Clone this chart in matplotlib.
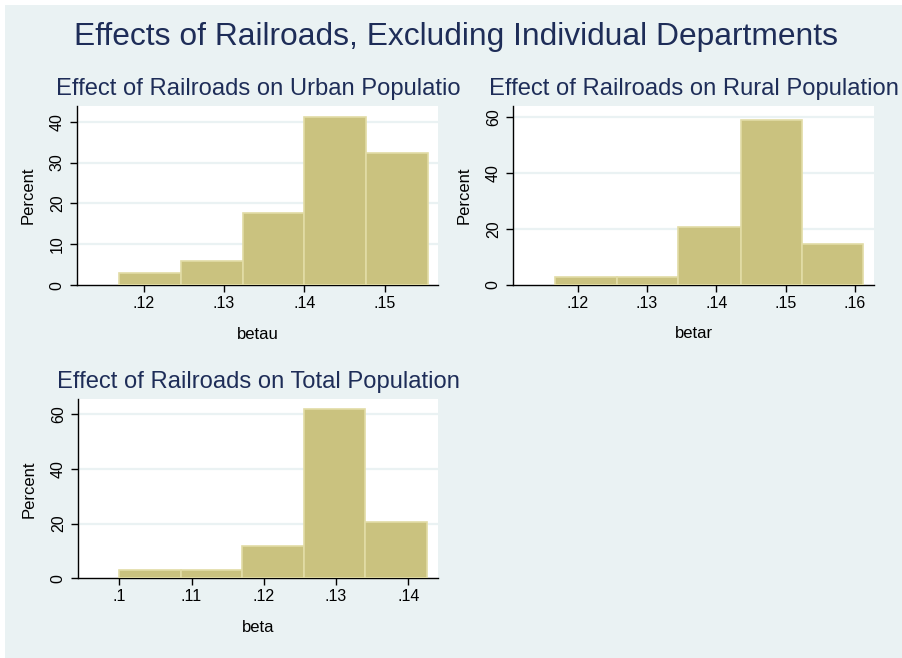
import numpy as np
import matplotlib
matplotlib.use("Agg")
import matplotlib.pyplot as plt
from matplotlib.patches import Rectangle

# histogram bins (percent of departments)
urban_edges = [0.1169, 0.1246, 0.1323, 0.1400, 0.1477, 0.1554]
urban_pct = [2.94, 5.88, 17.65, 41.18, 32.35]
rural_edges = [0.1167, 0.1256, 0.1345, 0.1435, 0.1524, 0.1612]
rural_pct = [2.94, 2.94, 20.59, 58.82, 14.71]
total_edges = [0.1000, 0.1085, 0.1170, 0.1255, 0.1340, 0.1426]
total_pct = [2.94, 2.94, 11.76, 61.76, 20.59]

urban_xticks = [0.12, 0.13, 0.14, 0.15]
urban_xlabels = [".12", ".13", ".14", ".15"]
rural_xticks = [0.12, 0.13, 0.14, 0.15, 0.16]
rural_xlabels = [".12", ".13", ".14", ".15", ".16"]
total_xticks = [0.10, 0.11, 0.12, 0.13, 0.14]
total_xlabels = [".1", ".11", ".12", ".13", ".14"]

BG = "#EAF2F3"
BAR = "#CAC27F"
BAR_EDGE = "#E2DCA6"
NAVY = "#1E2D58"

plt.rcParams.update({
    "font.family": ["Liberation Sans", "DejaVu Sans"],
    "font.size": 11,
})

fig = plt.figure(figsize=(9.02, 6.58), dpi=100)
fig.patch.set_facecolor("white")
fig.patches.append(Rectangle((5 / 902, 0), 1, 1 - 5 / 658,
                             transform=fig.transFigure, facecolor=BG,
                             edgecolor="none", zorder=-10))

fig.text(0.505, 0.944, "Effects of Railroads, Excluding Individual Departments",
         ha="center", va="center", fontsize=22.9, color=NAVY)


def panel(rect, edges, pct, xlim, ylim, yticks, xticks, xlabels, xlabel, title):
    ax = fig.add_axes(rect)
    ax.set_facecolor("white")
    edges = np.array(edges)
    ax.bar(edges[:-1], pct, width=np.diff(edges), align="edge",
           color=BAR, edgecolor=BAR_EDGE, linewidth=1.2, zorder=3)
    for y in yticks[1:]:
        ax.axhline(y, color=BG, linewidth=1.6, zorder=1)
    ax.set_xlim(*xlim)
    ax.set_ylim(*ylim)
    ax.set_yticks(yticks)
    ax.set_yticklabels([str(v) for v in yticks], rotation=90, va="center")
    ax.set_xticks(xticks)
    ax.set_xticklabels(xlabels)
    ax.tick_params(axis="both", length=5, width=1, color="black",
                   labelsize=11.5, labelcolor="black")
    ax.tick_params(axis="y", pad=4)
    ax.tick_params(axis="x", pad=3)
    for s in ("top", "right"):
        ax.spines[s].set_visible(False)
    for s in ("left", "bottom"):
        ax.spines[s].set_linewidth(1.0)
        ax.spines[s].set_color("black")
    ax.set_ylabel("Percent", fontsize=12, labelpad=10)
    ax.set_xlabel(xlabel, fontsize=12, labelpad=11)
    ax.set_title(title, fontsize=17.1, color=NAVY, pad=8)
    return ax


panel([0.0857, 0.5664, 0.4004, 0.2730], urban_edges, urban_pct,
      (0.11177, 0.15665), (0, 43.9), [0, 10, 20, 30, 40],
      urban_xticks, urban_xlabels, "betau",
      "Effect of Railroads on Urban Populatio")
panel([0.5691, 0.5669, 0.3999, 0.2725], rural_edges, rural_pct,
      (0.1107, 0.16274), (0, 64.0), [0, 20, 40, 60],
      rural_xticks, rural_xlabels, "betar",
      "Effect of Railroads on Rural Population")
panel([0.0868, 0.1211, 0.3985, 0.2721], total_edges, total_pct,
      (0.09433, 0.14407), (0, 65.5), [0, 20, 40, 60],
      total_xticks, total_xlabels, "beta",
      "Effect of Railroads on Total Population")

fig.savefig("out.png", dpi=100)
